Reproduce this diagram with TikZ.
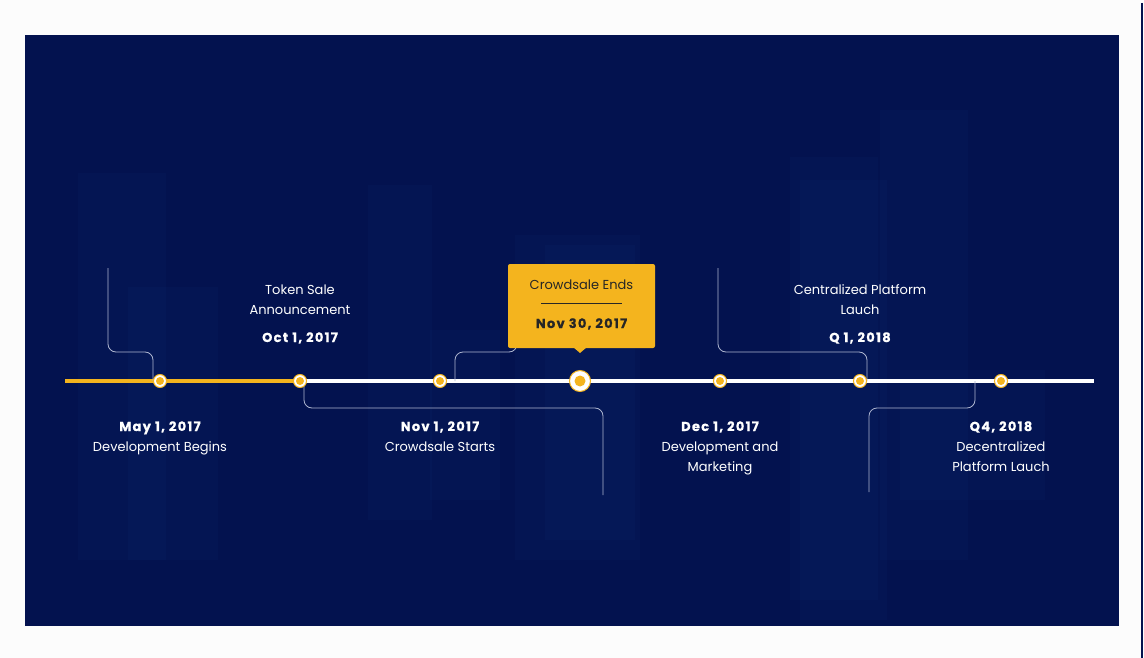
\documentclass[tikz,border=0pt]{standalone}
\usepackage{fontspec}
\setmainfont{Poppins}
\usetikzlibrary{positioning}

\definecolor{navy}{HTML}{03124F}
\definecolor{gold}{HTML}{F4B41E}
\definecolor{wire}{HTML}{AEB6D0}
\definecolor{paper}{HTML}{FCFCFC}
\definecolor{glow}{HTML}{2F6FD8}

\begin{document}
\begin{tikzpicture}[x=1pt, y=-1pt,
    dot/.style={circle, draw=gold, line width=1pt, fill=white, minimum size=13pt, inner sep=0pt,
      path picture={\fill[gold] (path picture bounding box.center) circle (4pt);}},
    bigdot/.style={circle, draw=gold, line width=1pt, fill=white, minimum size=21pt, inner sep=0pt,
      path picture={\fill[gold] (path picture bounding box.center) circle (5.5pt);}},
    date/.style={anchor=base, text=white, font=\bfseries\fontsize{13}{20}\selectfont\addfontfeatures{LetterSpace=10,FakeBold=0.6}},
    desc/.style={anchor=base, text=white, align=center, font=\fontsize{13}{20}\selectfont},
    wire/.style={draw=wire, line width=0.8pt, rounded corners=8pt},
    building/.style={fill=glow, opacity=0.035}]
   % page and panel
   \fill[paper] (0,0) rectangle (1144,658);
   \useasboundingbox (0,0) rectangle (1144,658);
   \fill[navy] (25,35) rectangle (1119,626);
   \draw[navy, line width=2pt] (1142,3) -- (1142,658);
   % faint city in the back
   \fill[building] (78,173) rectangle (166,560);
   \fill[building] (128,287) rectangle (218,560);
   \fill[building] (368,185) rectangle (432,520);
   \fill[building] (430,330) rectangle (500,500);
   \fill[building] (515,235) rectangle (640,560);
   \fill[building] (545,245) rectangle (635,540);
   \fill[building] (790,157) rectangle (878,600);
   \fill[building] (800,180) rectangle (887,620);
   \fill[building] (880,110) rectangle (968,560);
   \fill[building] (900,370) rectangle (1045,500);
   % timeline
   \coordinate (tstart) at (65,381);
   \coordinate (tend) at (1094,381);
   \path (160,381) coordinate (p1) (300,381) coordinate (p2) (440,381) coordinate (p3)
         (580,381) coordinate (p4) (720,381) coordinate (p5) (860,381) coordinate (p6)
         (1001,381) coordinate (p7);
   \draw[gold, line width=4pt] (tstart) -- (p2);
   \draw[white, line width=4pt] (p2) -- (tend);
   % connectors
   \coordinate (w1) at (108,268);
   \coordinate (w2) at (603,495);
   \coordinate (w3) at (517,340);
   \coordinate (w4) at (718,268);
   \coordinate (w5) at (869,492);
   \draw[wire] (w1) -- (108,352) -- (153,352) -- ([xshift=-7pt]p1);
   \draw[wire] ([xshift=4pt]p2) -- (304,408) -- (603,408) -- (w2);
   \draw[wire] ([xshift=15pt]p3) -- (455,352) -- (517,352) -- (w3);
   \draw[wire] ([xshift=7pt]p6) -- (867,352) -- (718,352) -- (w4);
   \draw[wire] ([xshift=-26pt]p7) -- (975,408) -- (869,408) -- (w5);
   % dots
   \node[dot] (d1) at (p1) {};
   \node[dot] (d2) at (p2) {};
   \node[dot] (d3) at (p3) {};
   \node[bigdot] (d4) at (p4) {};
   \node[dot] (d5) at (p5) {};
   \node[dot] (d6) at (p6) {};
   \node[dot] (d7) at (p7) {};
   % callout
   \fill[gold, rounded corners=2pt] (508,264) rectangle (655,348);
   \fill[gold] (573,347) -- (587,347) -- (580,353) -- cycle;
   \node[desc, text=black!85] (ends) at (581.5,289) {Crowdsale Ends};
   \draw[black!85, line width=0.7pt] (541,303) -- (622,303);
   \node[date, text=black!85] (endsdate) at (581.5,328) {Nov 30, 2017};
   % labels below
   \node[date] (date1) at (160,431) {May 1, 2017};
   \node[desc] (desc1) at (160,451) {Development Begins};
   \node[date] (date3) at (440,431) {Nov 1, 2017};
   \node[desc] (desc3) at (440,451) {Crowdsale Starts};
   \node[date] (date5) at (720,431) {Dec 1, 2017};
   \node[desc] (desc5) at (720,471) {Development and\\Marketing};
   \node[date] (date7) at (1001,431) {Q4, 2018};
   \node[desc] (desc7) at (1001,471) {Decentralized\\Platform Lauch};
   % labels above
   \node[desc] (desc2) at (300,314) {Token Sale\\Announcement};
   \node[date] (date2) at (300,342) {Oct 1, 2017};
   \node[desc] (desc6) at (860,314) {Centralized Platform\\Lauch};
   \node[date] (date6) at (860,342) {Q 1, 2018};
\end{tikzpicture}
\end{document}
